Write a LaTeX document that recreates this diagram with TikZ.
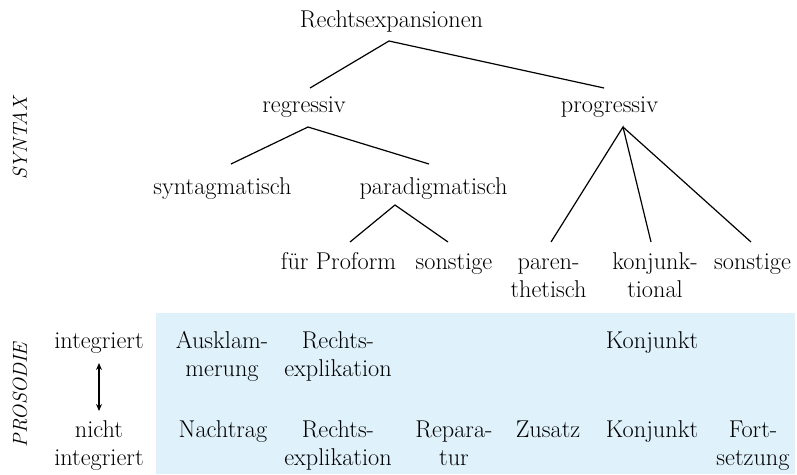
\documentclass[tikz,border=0pt]{standalone}
\usetikzlibrary{calc,arrows.meta}
\definecolor{prosodyblue}{RGB}{223,241,250}
\begin{document}
\begin{tikzpicture}[x=1pt,y=-1pt,
  lbl/.style={font=\fontsize{24.3}{28}\selectfont, anchor=base, inner sep=0pt, align=center},
  axislbl/.style={font=\fontsize{20.2}{24}\selectfont\itshape, rotate=90, anchor=base, inner sep=0pt},
  edge/.style={draw=black, line width=1.2pt},
  dblarrow/.style={draw=black, line width=1.2pt, {Stealth[length=7pt,width=6pt]}-{Stealth[length=7pt,width=6pt]}}]
\useasboundingbox (0,0) rectangle (797,474);
\fill[prosodyblue] (156,313) rectangle (795,474);
% axis labels
\node[axislbl] (syntax) at (27,138) {SYNTAX};
\node[axislbl] (prosodie) at (27,395) {PROSODIE};
% tree (two-line nodes are anchored at the baseline of their last line)
\node[lbl] (root) at (391.5,27) {Rechtsexpansionen};
\node[lbl] (reg) at (304,112) {regressiv};
\node[lbl] (prog) at (609.5,112) {progressiv};
\node[lbl] (syn) at (222.5,194) {syntagmatisch};
\node[lbl] (para) at (433.5,194) {paradigmatisch};
\node[lbl] (fp) at (338.5,269) {für Proform};
\node[lbl] (son1) at (454,269) {sonstige};
\node[lbl] (paren) at (548.5,297) {paren-\\thetisch};
\node[lbl] (konj) at (655,297) {konjunk-\\tional};
\node[lbl] (son2) at (752.5,269) {sonstige};
\draw[edge] ($(reg.base)+(6,-24)$) -- ($(root.base)+(-2.5,14)$) -- ($(prog.base)+(-5.5,-24)$);
\draw[edge] ($(syn.base)+(8.5,-30)$) -- ($(reg.base)+(4,15)$) -- ($(para.base)+(-4.5,-30)$);
\draw[edge] ($(fp.base)+(11.5,-27)$) -- ($(para.base)+(-38.5,11)$) -- ($(son1.base)+(-6,-27)$);
\draw[edge] ($(paren.base)+(2.5,-55)$) -- ($(prog.base)+(13.5,15)$) -- ($(konj.base)+(-4,-55)$);
\draw[edge] ($(prog.base)+(13.5,15)$) -- ($(son2.base)+(-1.5,-27)$);
% prosody
\node[lbl] (int) at (99,348) {integriert};
\node[lbl] (nint) at (99,465) {nicht\\integriert};
\draw[dblarrow] ($(int.base)+(0,15)$) -- ($(nint.base)+(0,-54)$);
\node[lbl] (aus) at (222,376) {Ausklam-\\merung};
\node[lbl] (rex1) at (338,376) {Rechts-\\explikation};
\node[lbl] (konj1) at (652,348) {Konjunkt};
\node[lbl] (nach) at (223,437) {Nachtrag};
\node[lbl] (rex2) at (338,465) {Rechts-\\explikation};
\node[lbl] (rep) at (454,465) {Repara-\\tur};
\node[lbl] (zus) at (548,437) {Zusatz};
\node[lbl] (konj2) at (652,437) {Konjunkt};
\node[lbl] (fort) at (753,465) {Fort-\\setzung};
\end{tikzpicture}
\end{document}
